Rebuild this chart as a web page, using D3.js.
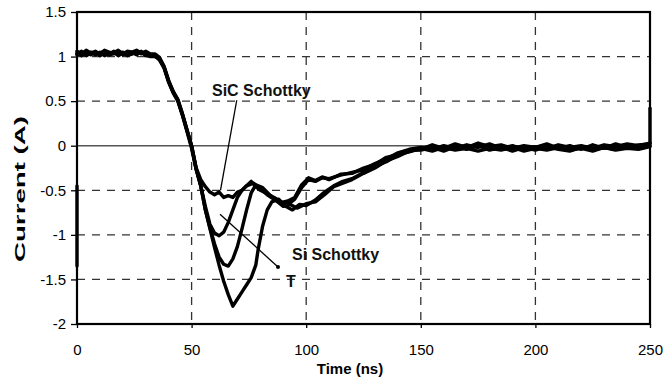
<!DOCTYPE html>
<html><head><meta charset="utf-8">
<script src="https://cdn.jsdelivr.net/npm/d3@7"></script>
<style>
html,body{margin:0;padding:0;background:#fff;}
svg{display:block;font-family:"Liberation Sans",Arial,sans-serif;}
</style></head>
<body>
<svg id="chart" width="665" height="381"></svg>
<script>
// ---- data ----
const xTicks = [0, 50, 100, 150, 200, 250];
const yTicks = [1.5, 1, 0.5, 0, -0.5, -1, -1.5, -2];
const xTickLabels = ["0", "50", "100", "150", "200", "250"];
const yTickLabels = ["1.5", "1", "0.5", "0", "-0.5", "-1", "-1.5", "-2"];

const tHead = [0,2,4,6,8,10,12,14,16,18,20,22,24,26,28,30,32,34,36,38,40,42,44,46,48,50,52];
const tTail = [150,155,160,165,170,175,180,185,190,195,200,205,210,215,220,225,230,235,240,245,250];

// SiC Schottky
const sicT = [54,56,58,60,62,64,66,68,70,72,74,76,78,80,83,86,89,92,95,98,101,104,107,110,115,120,125,130,135,140,145];
const sicHead = [1.06,1.03,1.07,1.04,1.06,1.03,1.07,1.05,1.04,1.07,1.03,1.06,1.05,1.07,1.04,1.06,1.03,1.03,0.99,0.89,0.73,0.61,0.52,0.36,0.18,0.0,-0.25];
const sicMid = [-0.38,-0.46,-0.52,-0.55,-0.52,-0.58,-0.56,-0.58,-0.52,-0.50,-0.45,-0.40,-0.46,-0.50,-0.54,-0.58,-0.63,-0.66,-0.60,-0.47,-0.38,-0.40,-0.36,-0.37,-0.33,-0.30,-0.27,-0.20,-0.15,-0.08,-0.04];
const sicTail = [-0.02,-0.04,0.0,-0.03,0.01,-0.02,0.02,-0.03,0.0,-0.04,-0.01,-0.03,0.01,-0.02,0.0,-0.03,0.01,-0.01,0.02,0.0,0.03];

// Si Schottky (shallowest Si dip)
const siT = [54,56,58,60,62,64,66,68,70,72,74,77,80,83,86,89,92,95,98,101,104,107,110,115,120,125,130,135,140,145];
const siHead = [1.02,1.05,1.01,1.04,1.02,1.05,1.01,1.03,1.05,1.01,1.04,1.02,1.05,1.02,1.06,1.01,1.01,1.01,0.96,0.87,0.71,0.59,0.50,0.34,0.16,-0.03,-0.27];
const siMid = [-0.45,-0.68,-0.88,-0.98,-1.01,-0.97,-0.86,-0.72,-0.58,-0.50,-0.45,-0.42,-0.48,-0.55,-0.60,-0.64,-0.62,-0.58,-0.44,-0.36,-0.39,-0.35,-0.38,-0.32,-0.31,-0.25,-0.21,-0.13,-0.10,-0.05];
const siTail = [-0.05,-0.02,-0.06,-0.01,-0.04,0.0,-0.05,-0.02,-0.06,-0.02,-0.05,-0.01,-0.04,-0.06,-0.02,-0.05,-0.02,-0.04,-0.01,-0.03,0.0];

// intermediate dip
const midT = [54,56,58,60,62,64,66,68,70,72,74,76,78,81,84,87,90,93,96,100,104,108,112,116,120,125,130,135,140,145];
const midHead = [1.04,1.01,1.05,1.02,1.05,1.01,1.04,1.02,1.06,1.03,1.05,1.01,1.03,1.06,1.03,1.04,1.02,1.02,0.98,0.88,0.72,0.60,0.51,0.35,0.17,-0.01,-0.26];
const midMid = [-0.45,-0.72,-0.92,-1.10,-1.25,-1.33,-1.35,-1.27,-1.13,-0.93,-0.72,-0.53,-0.44,-0.47,-0.55,-0.62,-0.68,-0.66,-0.70,-0.65,-0.63,-0.55,-0.46,-0.42,-0.38,-0.31,-0.25,-0.17,-0.12,-0.06];
const midTail = [-0.04,0.01,-0.03,0.02,-0.02,0.03,-0.01,0.01,-0.03,0.0,-0.02,0.02,-0.03,0.0,-0.04,0.01,-0.03,0.02,-0.02,0.01,0.02];

// deepest dip ("T")
const tT = [54,56,58,60,62,64,66,68,70,72,74,76,78,79,81,83,85,88,91,94,97,100,104,108,112,116,120,125,130,135,140,145];
const tHeadV = [1.03,1.06,1.02,1.05,1.03,1.04,1.06,1.02,1.03,1.05,1.02,1.05,1.03,1.04,1.05,1.02,1.00,1.00,0.97,0.88,0.72,0.60,0.51,0.35,0.17,0.0,-0.26];
const tMid = [-0.45,-0.72,-0.93,-1.14,-1.34,-1.52,-1.67,-1.80,-1.72,-1.64,-1.56,-1.48,-1.34,-1.17,-0.90,-0.72,-0.63,-0.60,-0.68,-0.72,-0.66,-0.67,-0.61,-0.52,-0.45,-0.40,-0.37,-0.30,-0.23,-0.18,-0.10,-0.07];
const tTailV = [-0.03,-0.06,-0.02,-0.05,-0.03,-0.06,-0.03,-0.05,-0.02,-0.06,-0.03,-0.05,-0.02,-0.05,-0.03,-0.06,-0.02,-0.05,-0.03,-0.04,-0.01];

// trace fragments on the record edges
const spikeT = [250, 250];
const spikeV = [0.03, 0.42];
const edgeT = [0, 0];
const edgeV = [-0.45, -1.35];

const annotations = [
  {text: "SiC Schottky", t: 58.9, v: 0.56, from: [69.7, 0.51], to: [62.6, -0.50], dot: false},
  {text: "Si Schottky", t: 93.8, v: -1.28, from: [87.7, -1.36], to: [62.4, -0.77], dot: true},
  {text: "T", t: 91.2, v: -1.58, from: null, to: null, dot: false}
];

// ---- drawing ----
const svg = d3.select("#chart");
const m = {l: 77, r: 15, t: 12, b: 57};
const W = 665, H = 381;
const x = d3.scaleLinear().domain([0, 250]).range([m.l, W - m.r]);
const y = d3.scaleLinear().domain([-2, 1.5]).range([H - m.b, m.t]);

// grid
const g = svg.append("g");
g.selectAll("line.hg").data(yTicks.filter(d => d !== 0 && d !== 1.5 && d !== -2)).join("line")
  .attr("x1", x(0)).attr("x2", x(250)).attr("y1", d => y(d)).attr("y2", d => y(d))
  .attr("stroke", "#333").attr("stroke-width", 1.3).attr("stroke-dasharray", "8,7");
g.selectAll("line.vg").data(xTicks.filter(d => d !== 0 && d !== 250)).join("line")
  .attr("y1", y(1.5)).attr("y2", y(-2)).attr("x1", d => x(d)).attr("x2", d => x(d))
  .attr("stroke", "#333").attr("stroke-width", 1.3).attr("stroke-dasharray", "8,7");
g.append("line").attr("x1", x(0)).attr("x2", x(250)).attr("y1", y(0)).attr("y2", y(0))
  .attr("stroke", "#555").attr("stroke-width", 1.5);

// axes
const yAxis = d3.axisLeft(y).tickValues(yTicks).tickSize(6).tickPadding(5)
  .tickFormat((d, i) => yTickLabels[i]);
const ya = svg.append("g").attr("transform", `translate(${m.l},0)`).call(yAxis);
ya.select(".domain").remove();
ya.selectAll("line").attr("stroke", "#000").attr("stroke-width", 1.3);
ya.selectAll("text").attr("font-size", 15).attr("fill", "#000").attr("font-family", "Liberation Sans, Arial");

const xAxis = d3.axisBottom(x).tickValues(xTicks).tickSize(4).tickPadding(16)
  .tickFormat((d, i) => xTickLabels[i]);
const xa = svg.append("g").attr("transform", `translate(0,${H - m.b})`).call(xAxis);
xa.select(".domain").remove();
xa.selectAll("line").attr("stroke", "#000").attr("stroke-width", 1.3);
xa.selectAll("text").attr("font-size", 15).attr("fill", "#000").attr("font-family", "Liberation Sans, Arial");

// series
function series(head, tm, mid, tail) {
  const pts = [];
  tHead.forEach((t, i) => pts.push([t, head[i]]));
  tm.forEach((t, i) => pts.push([t, mid[i]]));
  tTail.forEach((t, i) => pts.push([t, tail[i]]));
  return pts;
}
const allSeries = [
  series(sicHead, sicT, sicMid, sicTail),
  series(siHead, siT, siMid, siTail),
  series(midHead, midT, midMid, midTail),
  series(tHeadV, tT, tMid, tTailV),
  spikeT.map((t, i) => [t, spikeV[i]]),
  edgeT.map((t, i) => [t, edgeV[i]])
];
const line = d3.line().x(d => x(d[0])).y(d => y(d[1]));
svg.append("g").selectAll("path").data(allSeries).join("path")
  .attr("d", line).attr("fill", "none").attr("stroke", "#000")
  .attr("stroke-width", 3.4).attr("stroke-linejoin", "round").attr("stroke-linecap", "round");

// frame
svg.append("rect").attr("x", x(0)).attr("y", y(1.5)).attr("width", x(250) - x(0)).attr("height", y(-2) - y(1.5))
  .attr("fill", "none").attr("stroke", "#000").attr("stroke-width", 2.2);

// annotations
annotations.forEach(a => {
  if (a.from) {
    svg.append("line").attr("x1", x(a.from[0])).attr("y1", y(a.from[1]))
      .attr("x2", x(a.to[0])).attr("y2", y(a.to[1])).attr("stroke", "#000").attr("stroke-width", 1.3);
  }
  if (a.dot) svg.append("circle").attr("cx", x(a.from[0])).attr("cy", y(a.from[1])).attr("r", 2).attr("fill", "#000");
  svg.append("text").attr("x", x(a.t)).attr("y", y(a.v)).attr("font-size", 16).attr("font-weight", "bold")
    .attr("fill", "#111").text(a.text);
});

// axis titles
svg.append("text").attr("x", 350).attr("y", 374).attr("text-anchor", "middle")
  .attr("font-size", 15).attr("font-weight", "bold").text("Time (ns)");
svg.append("text").attr("transform", "translate(25,189) rotate(-90)").attr("text-anchor", "middle")
  .attr("font-size", 15).attr("font-weight", "bold")
  .attr("textLength", 146).attr("lengthAdjust", "spacingAndGlyphs").text("Current (A)");
</script>
</body></html>
